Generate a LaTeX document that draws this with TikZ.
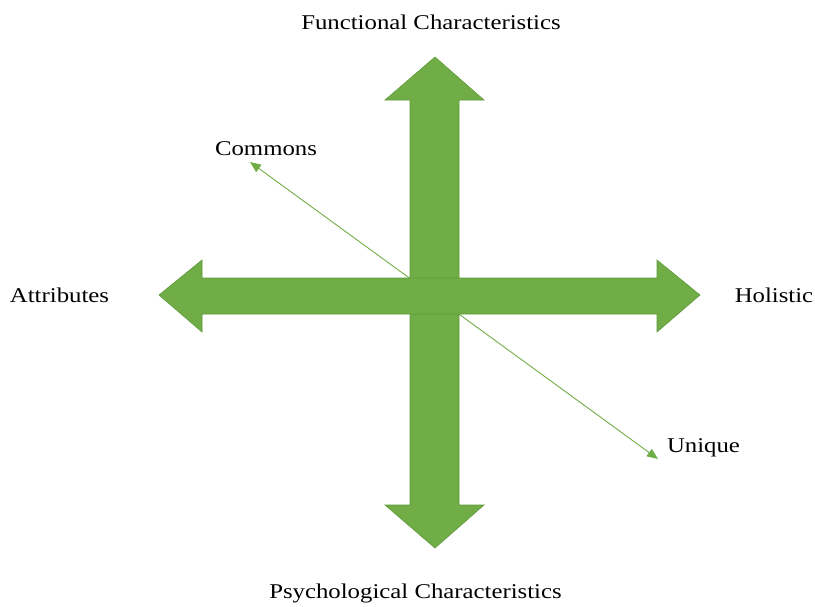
\documentclass[tikz,border=0pt]{standalone}
\usepackage{fontspec}
\setmainfont{Liberation Serif}[FakeStretch=1.18]
\usetikzlibrary{arrows.meta}
\definecolor{agreen}{HTML}{70AD47}
\definecolor{aedge}{HTML}{5E9A3A}
\tikzset{
  bigarrow/.style={fill=agreen, draw=aedge, line width=0.6pt, line join=miter},
  lbl/.style={font=\fontsize{21}{24}\selectfont, anchor=base, inner sep=0pt},
  thin/.style={draw=agreen, line width=0.9pt, {Triangle[length=11pt,width=9pt]}-{Triangle[length=11pt,width=9pt]}}
}
\begin{document}
\begin{tikzpicture}[x=1pt,y=-1pt]
\useasboundingbox (0,0) rectangle (815,606);
% diagonal connector (behind)
\coordinate (c1) at (250,162);
\coordinate (c2) at (658,459);
\draw[thin] (c1) -- (c2);
% vertical arrow
\path[bigarrow] (435,57) -- (484,100) -- (459,100) -- (459,505) -- (484,505) -- (435,548)
  -- (385,505) -- (410,505) -- (410,100) -- (385,100) -- cycle;
% horizontal arrow
\path[bigarrow] (159,295) -- (202,260) -- (202,278) -- (657,278) -- (657,260) -- (700,295)
  -- (657,332) -- (657,314) -- (202,314) -- (202,332) -- cycle;
% labels
\node[lbl] (fun) at (431,29) {Functional Characteristics};
\node[lbl] (psy) at (415.5,598) {Psychological Characteristics};
\node[lbl] (att) at (59.5,302) {Attributes};
\node[lbl] (hol) at (774,302) {Holistic};
\node[lbl] (com) at (266,155) {Commons};
\node[lbl] (uni) at (703.5,452) {Unique};
\end{tikzpicture}
\end{document}
